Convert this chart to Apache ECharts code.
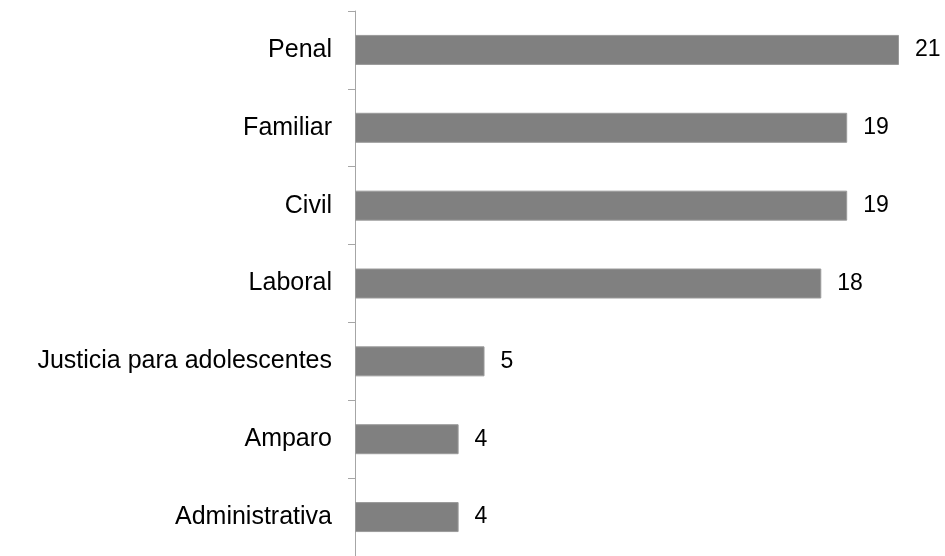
<!DOCTYPE html>
<html>
<head>
<meta charset="utf-8">
<script src="https://cdn.jsdelivr.net/npm/echarts@6/dist/echarts.min.js"></script>
<style>
  html, body { margin: 0; padding: 0; background: #fff; }
  #chart { width: 945px; height: 556px; }
</style>
</head>
<body>
<div id="chart"></div>
<script>
  // categories from bottom to top (category axis starts at the bottom)
  const categories = ['Administrativa', 'Amparo', 'Justicia para adolescentes', 'Laboral', 'Civil', 'Familiar', 'Penal'];
  const values = [4, 4, 5, 18, 19, 19, 21];

  const chart = echarts.init(document.getElementById('chart'));
  const option = {
    backgroundColor: '#ffffff',
    animation: false,
    grid: {
      left: 355,
      top: 11,
      width: 544,
      height: 547
    },
    xAxis: {
      type: 'value',
      min: 0,
      max: 21,
      show: false
    },
    yAxis: {
      type: 'category',
      data: categories,
      axisLine: { show: true, lineStyle: { color: '#a6a6a6', width: 1 } },
      axisTick: { show: true, inside: false, length: 7, lineStyle: { color: '#a6a6a6' } },
      axisLabel: {
        color: '#000',
        fontFamily: 'Liberation Sans, Arial, sans-serif',
        fontSize: 25,
        margin: 23
      }
    },
    series: [{
      type: 'bar',
      data: values,
      barWidth: 30,
      itemStyle: { color: '#808080', borderColor: '#9a9a9a', borderWidth: 1 },
      label: {
        show: true,
        position: 'right',
        distance: 16,
        color: '#000',
        fontFamily: 'Liberation Sans, Arial, sans-serif',
        fontSize: 23
      }
    }]
  };
  chart.setOption(option);
  window.addEventListener('resize', function () {
    chart.resize();
  });
</script>
</body>
</html>
